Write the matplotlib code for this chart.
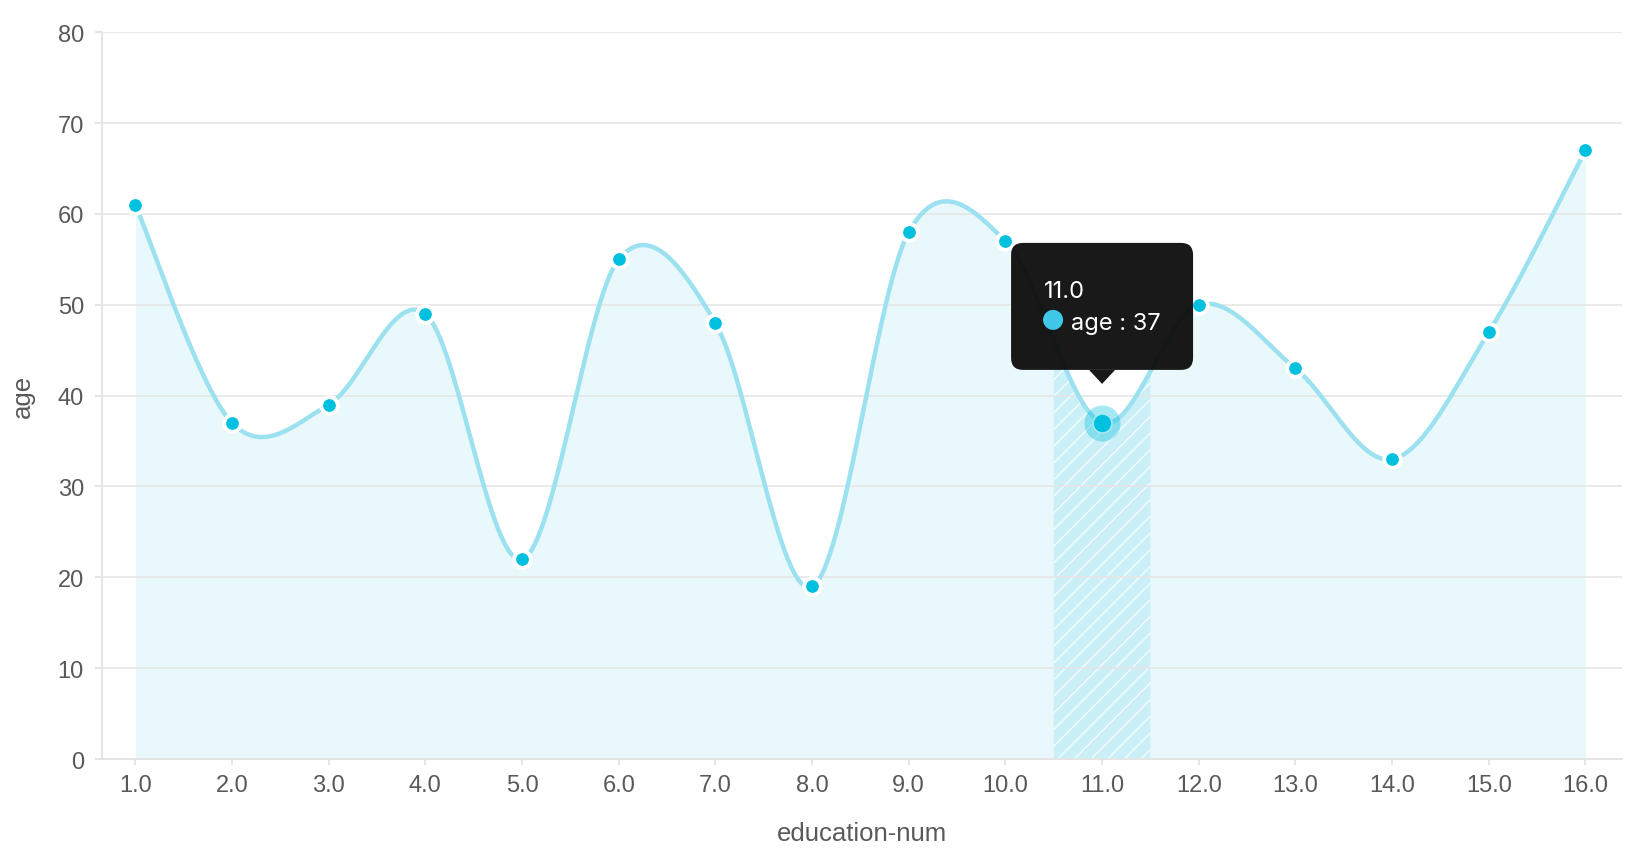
import numpy as np
import matplotlib
matplotlib.use("Agg")
import matplotlib.pyplot as plt
from matplotlib.patches import FancyBboxPatch, Polygon, Circle
from matplotlib.transforms import IdentityTransform

# -----------------------------
# data
# -----------------------------
education_num = [1.0, 2.0, 3.0, 4.0, 5.0, 6.0, 7.0, 8.0,
                 9.0, 10.0, 11.0, 12.0, 13.0, 14.0, 15.0, 16.0]
age = [61, 37, 39, 49, 22, 55, 48, 19, 58, 57, 37, 50, 43, 33, 47, 67]
x_labels = [f"{v:.1f}" for v in education_num]
y_ticks = [0, 10, 20, 30, 40, 50, 60, 70, 80]
active = 10  # hovered point (11.0)

COLOR = "#00C0DF"
LINE = "#9BE1EF"
FILL = "#E9F8FB"
BAND = "#CBEFF7"
TEXT = "#595959"
GRID = "#E6E6E6"

plt.rcParams["font.family"] = ["Liberation Sans", "DejaVu Sans"]
plt.rcParams["hatch.linewidth"] = 1.0


# smooth curve through the points (catmull-rom)
def smooth(x, y, n=60):
    x = np.asarray(x, float)
    y = np.asarray(y, float)
    px = np.concatenate([[x[0]], x, [x[-1]]])
    py = np.concatenate([[y[0]], y, [y[-1]]])
    xs, ys = [], []
    t = np.linspace(0, 1, n, endpoint=False)
    for i in range(1, len(px) - 2):
        mx0 = (px[i + 1] - px[i - 1]) / 2
        mx1 = (px[i + 2] - px[i]) / 2
        my0 = (py[i + 1] - py[i - 1]) / 2
        my1 = (py[i + 2] - py[i]) / 2
        h00 = 2 * t**3 - 3 * t**2 + 1
        h10 = t**3 - 2 * t**2 + t
        h01 = -2 * t**3 + 3 * t**2
        h11 = t**3 - t**2
        xs.append(h00 * px[i] + h10 * mx0 + h01 * px[i + 1] + h11 * mx1)
        ys.append(h00 * py[i] + h10 * my0 + h01 * py[i + 1] + h11 * my1)
    xs.append([x[-1]])
    ys.append([y[-1]])
    return np.concatenate(xs), np.concatenate(ys)


cx, cy = smooth(education_num, age)

fig = plt.figure(figsize=(16.32, 8.62), dpi=100)
ax = fig.add_axes([0.0625, 0.1183, 0.9313, 0.8431])

# area + line
ax.fill_between(cx, 0, cy, color=FILL, lw=0, zorder=1)

# hatched band for the active category, clipped under the curve
xa = education_num[active]
m = (cx >= xa - 0.5) & (cx <= xa + 0.5)
ax.fill_between(cx[m], 0, cy[m], facecolor=BAND, edgecolor="#F4FCFE",
                hatch="//", lw=0, zorder=1.2)

ax.plot(cx, cy, color=LINE, lw=3.2, solid_capstyle="round", zorder=3)
ax.plot(education_num, age, "o", ms=12, mfc=COLOR, mec="white", mew=2.8, zorder=4)

# active point
ax.plot(education_num[active], age[active], "o", ms=26, mfc=COLOR, mec="none",
        alpha=0.35, zorder=5)
ax.plot(education_num[active], age[active], "o", ms=12.5, mfc=COLOR, mec="none", zorder=6)

# axes styling
ax.set_xlim(0.655, 16.377)
ax.set_ylim(0, 80)
ax.set_xticks(education_num)
ax.set_xticklabels(x_labels)
ax.set_yticks(y_ticks)
ax.yaxis.grid(True, color=GRID, lw=1.2, zorder=2)
ax.set_axisbelow(False)
for s in ["top", "right"]:
    ax.spines[s].set_visible(False)
for s in ["left", "bottom"]:
    ax.spines[s].set_color("#E0E0E0")
    ax.spines[s].set_linewidth(1.2)
ax.tick_params(axis="y", length=5, width=1.2, color="#E0E0E0", pad=8,
               labelsize=17, labelcolor=TEXT)
ax.tick_params(axis="x", length=4.5, width=1.2, color="#E0E0E0", pad=6,
               labelsize=17, labelcolor=TEXT)
ax.set_xlabel("education-num", fontsize=18.5, color=TEXT, labelpad=18)
ax.set_ylabel("age", fontsize=18.5, color=TEXT, labelpad=16)

# tooltip (pixel coords relative to the active point)
fig.canvas.draw()
px, py = ax.transData.transform((education_num[active], age[active]))
ident = IdentityTransform()
box = FancyBboxPatch((px - 91 + 12, py + 53 + 12), 182 - 24, 127 - 24,
                     boxstyle="round,pad=12", fc="#0F0F0F", ec="none",
                     alpha=0.96, transform=ident, zorder=10)
fig.add_artist(box)
tri = Polygon([(px - 13, py + 53), (px + 13, py + 53), (px, py + 39)],
              closed=True, fc="#0F0F0F", ec="none", alpha=0.96,
              transform=ident, zorder=10)
fig.add_artist(tri)
fig.add_artist(Circle((px - 49, py + 103), 10, fc="#3FC8E8", ec="none",
                      transform=ident, zorder=11))
fig.text((px - 58) / fig.bbox.width, (py + 126) / fig.bbox.height,
         f"{education_num[active]:.1f}", color="white", fontsize=17,
         family=["Inter", "DejaVu Sans"], va="baseline", ha="left", zorder=12)
fig.text((px - 31) / fig.bbox.width, (py + 94) / fig.bbox.height,
         f"age : {age[active]}", color="white", fontsize=17,
         family=["Inter", "DejaVu Sans"], va="baseline", ha="left", zorder=12)

fig.savefig("out.png", dpi=100)
